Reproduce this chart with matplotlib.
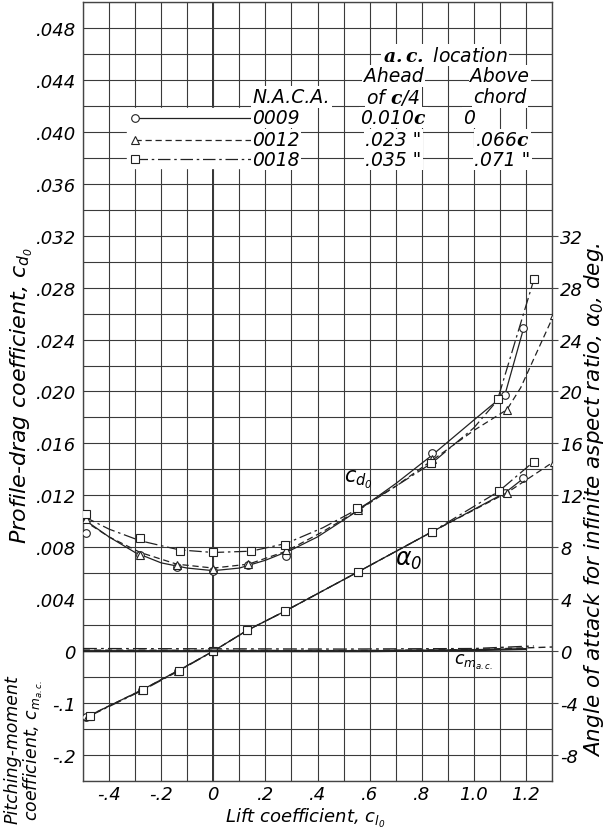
import numpy as np
import matplotlib
matplotlib.use("Agg")
import matplotlib.pyplot as plt

plt.rcParams['font.family'] = ['DejaVu Sans']
plt.rcParams['font.style'] = 'italic'
plt.rcParams['axes.unicode_minus'] = False
plt.rcParams['mathtext.fontset'] = 'custom'
plt.rcParams['mathtext.rm'] = 'DejaVu Sans:italic'
plt.rcParams['mathtext.it'] = 'DejaVu Sans:italic'
plt.rcParams['mathtext.bf'] = 'DejaVu Serif:bold'

# ---- data ----
sections = ['0009', '0012', '0018']
ahead = ['0.010$\\mathbf{c}$', '.023 "', '.035 "']
above = ['0', '.066$\\mathbf{c}$', '.071 "']

# profile-drag test points
cl_d_0009 = [-0.49, -0.28, -0.14, 0.0, 0.135, 0.28, 0.555, 0.84, 1.12, 1.19]
cd_0009 = [0.0091, 0.0074, 0.0065, 0.0062, 0.0066, 0.0073, 0.0109, 0.0153, 0.0197, 0.0249]
cl_d_0012 = [-0.49, -0.28, -0.14, 0.0, 0.135, 0.28, 0.555, 0.84, 1.127, 1.307]
cd_0012 = [0.0102, 0.0074, 0.0066, 0.0063, 0.0067, 0.0078, 0.0109, 0.0148, 0.0186, 0.0259]
cl_d_0018 = [-0.49, -0.28, -0.127, 0.0, 0.145, 0.277, 0.553, 0.837, 1.091, 1.23]
cd_0018 = [0.01055, 0.0087, 0.0077, 0.0076, 0.0077, 0.0082, 0.0110, 0.0145, 0.0194, 0.0287]

# faired drag curves
fc_cl_0009 = [-0.5, -0.4, -0.3, -0.2, -0.1, 0.0, 0.1, 0.2, 0.3, 0.4, 0.5, 0.56, 0.7, 0.84, 1.0, 1.12, 1.19]
fc_cd_0009 = [0.0102, 0.0088, 0.0076, 0.0068, 0.0064, 0.0062, 0.0064, 0.0070, 0.0078, 0.0088, 0.0101, 0.0109, 0.0129, 0.0151, 0.0178, 0.0198, 0.0248]
fc_cl_0012 = [-0.5, -0.4, -0.28, -0.14, 0.0, 0.135, 0.28, 0.42, 0.56, 0.7, 0.84, 1.0, 1.127, 1.18, 1.232, 1.307]
fc_cd_0012 = [0.0101, 0.0088, 0.0076, 0.0067, 0.0064, 0.0067, 0.0077, 0.0092, 0.0109, 0.0127, 0.0147, 0.0170, 0.0186, 0.0203, 0.0226, 0.0259]
fc_cl_0018 = [-0.5, -0.4, -0.28, -0.13, 0.0, 0.145, 0.28, 0.42, 0.56, 0.7, 0.84, 1.0, 1.09, 1.23]
fc_cd_0018 = [0.0104, 0.0094, 0.0085, 0.0078, 0.0076, 0.0077, 0.0083, 0.0095, 0.0110, 0.0127, 0.0145, 0.0172, 0.0193, 0.0286]

# angle of attack, deg
cl_a_0009 = [-0.49, -0.275, -0.135, 0.0, 0.13, 0.277, 0.555, 0.84, 1.12, 1.19]
a_0009 = [-5.1, -3.0, -1.5, 0.0, 1.6, 3.1, 6.1, 9.2, 12.2, 13.3]
cl_a_0012 = [-0.48, -0.275, -0.135, 0.0, 0.13, 0.277, 0.555, 0.84, 1.127, 1.307]
a_0012 = [-5.0, -3.0, -1.5, 0.0, 1.6, 3.1, 6.1, 9.2, 12.2, 14.6]
cl_a_0018 = [-0.475, -0.27, -0.13, 0.0, 0.13, 0.277, 0.555, 0.84, 1.095, 1.23]
a_0018 = [-5.0, -3.0, -1.5, 0.0, 1.6, 3.1, 6.1, 9.2, 12.3, 14.6]

# pitching moment about a.c.
cl_m_0009 = [-0.5, 0.0, 0.6, 1.0, 1.2]
cm_0009 = [0.0, 0.0, 0.0, 0.002, 0.004]
cl_m_0012 = [-0.5, 0.5, 1.0, 1.3]
cm_0012 = [0.002, 0.001, 0.003, 0.008]
cl_m_0018 = [-0.5, 0.5, 1.0, 1.23]
cm_0018 = [0.005, 0.004, 0.005, 0.010]

markers = ['o', '^', 's']
styles = ['-', (0, (5, 3)), (0, (10, 3, 2, 3))]
ink = '#222222'

fig = plt.figure(figsize=(6.12, 8.29), dpi=100)
ax = fig.add_axes([0.1356, 0.0567, 0.7664, 0.9397])
ax_a = ax.twinx()
ax_m = ax.twinx()

ax.set_xlim(-0.5, 1.3)
ax.set_ylim(-0.010, 0.050)
ax_a.set_ylim(-10, 50)
ax_m.set_ylim(-0.25, 1.25)

xt = [-0.4, -0.2, 0, 0.2, 0.4, 0.6, 0.8, 1.0, 1.2]
ax.set_xticks(xt)
ax.set_xticklabels(['-.4', '-.2', '0', '.2', '.4', '.6', '.8', '1.0', '1.2'])
ax.set_xticks(np.arange(-0.5, 1.31, 0.1), minor=True)
yt = np.arange(0.004, 0.0481, 0.004)
ax.set_yticks(yt)
ax.set_yticklabels([('%.3f' % v).lstrip('0') for v in yt])
ax.set_yticks(np.arange(-0.010, 0.0501, 0.002), minor=True)
ax.grid(True, which='both', color='#3a3a3a', lw=0.8)
ax.axvline(0, color='#222222', lw=1.3, zorder=1)
ax.tick_params(which='both', length=0, labelsize=13, pad=5)
ax.tick_params(axis='x', pad=3)
for s in ax.spines.values():
    s.set_color('#444444')
    s.set_linewidth(1.0)

ax_a.set_yticks(np.arange(-8, 33, 4))
ax_a.tick_params(length=4, labelsize=13, pad=2, color='#444444')
ax_m.set_yticks([0, -0.1, -0.2])
ax_m.set_yticklabels(['0', '-.1', '-.2'])
ax_m.yaxis.tick_left()
ax_m.tick_params(length=0, labelsize=13, pad=5)
for a in (ax_a, ax_m):
    for s in a.spines.values():
        s.set_visible(False)

fig.text(22 / 612, 1 - 395 / 829, 'Profile-drag coefficient, $c_{d_0}$', rotation=90,
         fontsize=16, ha='center', va='center')
fig.text(305 / 612, 1 - 818 / 829, 'Lift coefficient, $c_{l_0}$', fontsize=13,
         ha='center', va='center')
fig.text(594 / 612, 1 - 500 / 829,
         'Angle of attack for infinite aspect ratio, $\\alpha_0$, deg.', rotation=90,
         fontsize=15.5, ha='center', va='center')
fig.text(24 / 612, 1 - 750 / 829, 'Pitching-moment\ncoefficient, $c_{m_{a.c.}}$', rotation=90,
         fontsize=12.5, ha='center', va='center', linespacing=1.0, multialignment='center')

fd = [(fc_cl_0009, fc_cd_0009, cl_d_0009, cd_0009),
      (fc_cl_0012, fc_cd_0012, cl_d_0012, cd_0012),
      (fc_cl_0018, fc_cd_0018, cl_d_0018, cd_0018)]
al = [(cl_a_0009, a_0009), (cl_a_0012, a_0012), (cl_a_0018, a_0018)]
mo = [(cl_m_0009, cm_0009), (cl_m_0012, cm_0012), (cl_m_0018, cm_0018)]
mk = dict(mfc='white', mec=ink, mew=0.8, ms=5.5)
for i in range(3):
    fx, fy, px, py = fd[i]
    ax.plot(fx, fy, ls=styles[i], color=ink, lw=0.9, zorder=3)
    ax.plot(px, py, ls='none', marker=markers[i], **mk, zorder=4)
    ax_a.plot(al[i][0], al[i][1], ls=styles[i], color=ink, lw=0.9,
              marker=markers[i], **mk)
    ax_m.plot(mo[i][0], mo[i][1], ls=styles[i], color=ink, lw=1.6 if i == 0 else 1.0)

ax.text(0.555, 0.0133, '$c_{d_0}$', fontsize=15, ha='center', va='center')
ax.text(0.75, 0.0071, '$\\alpha_0$', fontsize=17, ha='center', va='center')
ax.text(1.0, -0.0008, '$c_{m_{a.c.}}$', fontsize=12.5, ha='center', va='center')

# table / legend
wb = dict(facecolor='white', edgecolor='none', pad=1.0)
tk = dict(fontsize=13.5, va='center', bbox=wb, zorder=5)
rows_y = [0.0411, 0.0394, 0.0379]
ax.fill_between([-0.33, 0.14], 0.0372, 0.0418, color='white', zorder=2)
ax.text(0.89, 0.0459, '$\\mathbf{a.c.}$ location', ha='center', **tk)
ax.text(0.692, 0.0443, 'Ahead', ha='center', **tk)
ax.text(0.692, 0.0427, 'of $\\mathbf{c}$/4', ha='center', **tk)
ax.text(1.10, 0.0443, 'Above', ha='center', **tk)
ax.text(1.10, 0.0427, 'chord', ha='center', **tk)
ax.text(0.30, 0.0427, 'N.A.C.A.', ha='center', **tk)
for i in range(3):
    y = rows_y[i]
    ax.plot([-0.30, 0.145], [y, y], ls=styles[i], color=ink, lw=0.9, zorder=3)
    ax.plot([-0.30], [y], ls='none', marker=markers[i], **mk, zorder=4)
    ax.text(0.15, y, sections[i], ha='left', **tk)
    ax.text(0.692, y, ahead[i], ha='center', **tk)
    if i == 0:
        ax.text(0.96, y, above[i], ha='left', **tk)
    else:
        ax.text(1.11, y, above[i], ha='center', **tk)

fig.savefig('out.png', dpi=100, facecolor='white')
